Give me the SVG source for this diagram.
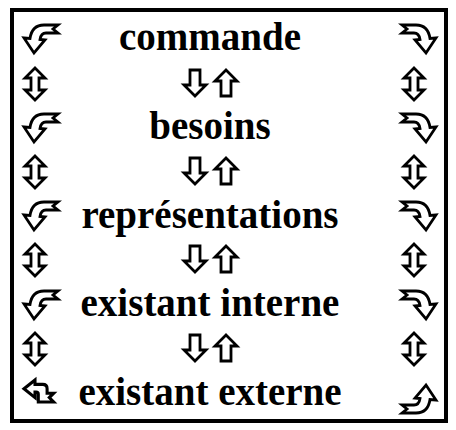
<svg xmlns="http://www.w3.org/2000/svg" width="456" height="430" viewBox="0 0 456 430">
<style>
.t{font-family:"Liberation Serif","Times New Roman",serif;font-weight:bold;font-size:39px;fill:#000;text-anchor:middle}
.a{fill:#fff;stroke:#000;stroke-width:2.8;stroke-linejoin:miter}
</style>
<defs>
<path id="curl" class="a" d="M0,14 L6,14.5 Q8,1 20,1 L34,1 L29,5 L34,9 L22,9 Q17,9 16,15.5 L21,16 L10,29 Z"/>
<path id="ud" class="a" d="M10,0 L20,10 L14,10 L14,22 L20,22 L10,32 L0,22 L6,22 L6,10 L0,10 Z"/>
<path id="up" class="a" d="M11,0 L22,11 L16,11 L16,26 L6,26 L6,11 L0,11 Z"/>
<path id="bl" class="a" d="M0,8 L10,0 L10,4 L17,4 Q21,4 21,8 L21,12 L27,12 L23,16 L27,20 L13,20 L13,13 Q13,11 11,11 L10,11 L10,16 Z"/>
</defs>
<rect x="12" y="10" width="434" height="411" fill="#fff" stroke="#000" stroke-width="4"/>
<g id="connectors">
<use href="#ud" x="25" y="68"/><use href="#ud" x="404" y="68"/>
<use href="#up" transform="translate(206,96) rotate(180)"/><use href="#up" x="215" y="70"/>
<use href="#ud" x="25" y="156"/><use href="#ud" x="404" y="156"/>
<use href="#up" transform="translate(206,184) rotate(180)"/><use href="#up" x="215" y="158"/>
<use href="#ud" x="25" y="244"/><use href="#ud" x="404" y="244"/>
<use href="#up" transform="translate(206,272) rotate(180)"/><use href="#up" x="215" y="246"/>
<use href="#ud" x="25" y="333"/><use href="#ud" x="404" y="333"/>
<use href="#up" transform="translate(206,361) rotate(180)"/><use href="#up" x="215" y="335"/>
</g>
<g id="commande">
<use href="#curl" x="24" y="24"/>
<text class="t" x="210" y="50">commande</text>
<use href="#curl" transform="translate(436,24) scale(-1,1)"/>
</g>
<g id="besoins">
<use href="#curl" x="24" y="113"/>
<text class="t" x="210" y="139">besoins</text>
<use href="#curl" transform="translate(436,113) scale(-1,1)"/>
</g>
<g id="representations">
<use href="#curl" x="24" y="201"/>
<text class="t" x="210" y="228">représentations</text>
<use href="#curl" transform="translate(436,201) scale(-1,1)"/>
</g>
<g id="existant-interne">
<use href="#curl" x="24" y="290"/>
<text class="t" x="210" y="316">existant interne</text>
<use href="#curl" transform="translate(436,290) scale(-1,1)"/>
</g>
<g id="existant-externe">
<use href="#bl" transform="translate(24,380) scale(1.1)"/>
<text class="t" x="210" y="405">existant externe</text>
<use href="#curl" transform="translate(436,414) rotate(180)"/>
</g>
</svg>
